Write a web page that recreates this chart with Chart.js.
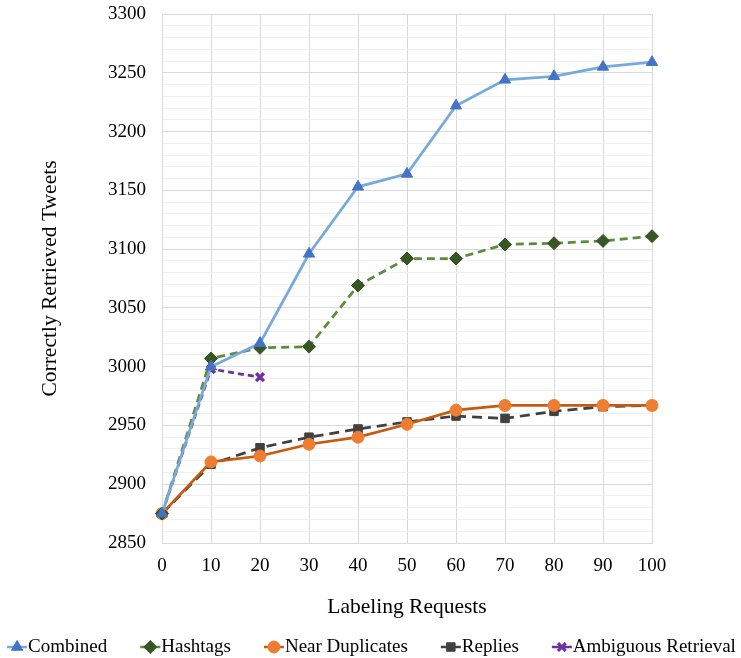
<!DOCTYPE html>
<html>
<head>
<meta charset="utf-8">
<script src="https://cdn.jsdelivr.net/npm/chart.js@4/dist/chart.umd.min.js"></script>
<style>
html,body{margin:0;padding:0;background:#fff;}
#wrap{width:741px;height:658px;}
</style>
</head>
<body>
<div id="wrap"><canvas id="c" width="741" height="658"></canvas></div>
<script>
const requests = [0, 10, 20, 30, 40, 50, 60, 70, 80, 90, 100];
const combined = [2875, 3000, 3020, 3096, 3153, 3164, 3222, 3244, 3247, 3255, 3259];
const hashtags = [2875, 3007, 3016, 3017, 3069, 3092, 3092, 3104, 3105, 3107, 3111];
const nearDuplicates = [2875, 2919, 2924, 2934, 2940, 2951, 2963, 2967, 2967, 2967, 2967];
const replies = [2875, 2917, 2931, 2940, 2947, 2953, 2958, 2956, 2962, 2966, 2967];
const ambiguous = [2875, 2998, 2991, null, null, null, null, null, null, null, null];
const seriesNames = ['Combined', 'Hashtags', 'Near Duplicates', 'Replies', 'Ambiguous Retrieval'];

const FONT = '"Liberation Serif", serif';

const styles = [
  {line:'#75aadb', point:'#4472c4', style:'triangle', r:6.5, dash:[]},
  {line:'#5b8c3a', point:'#375623', style:'rectRot', r:6.5, dash:[8,5]},
  {line:'#c55a11', point:'#ed7d31', style:'circle', r:6, dash:[]},
  {line:'#404040', point:'#404040', style:'rect', r:6, dash:[10,6]},
  {line:'#7030a0', point:'#7030a0', style:'crossRot', r:5.5, dash:[6,4]}
];
const values = [combined, hashtags, nearDuplicates, replies, ambiguous];

const datasets = values.map((v, i) => {
  const s = styles[i];
  const isCross = s.style === 'crossRot';
  return {
    label: seriesNames[i],
    data: v,
    borderColor: s.line,
    borderWidth: 2.75,
    borderDash: s.dash,
    pointStyle: s.style,
    pointRadius: s.r,
    pointBackgroundColor: s.point,
    pointBorderColor: s.point,
    pointBorderWidth: isCross ? 3.5 : 1,
    fill: false,
    tension: 0,
    spanGaps: false
  };
});

const customLegend = {
  id: 'customLegend',
  afterDraw(chart) {
    const ctx = chart.ctx;
    const fontSize = 19;
    const iconW = 20, textGap = 1, itemGap = 33;
    const y = chart.height - 11;
    ctx.save();
    ctx.font = fontSize + 'px ' + FONT;
    const widths = seriesNames.map(n => ctx.measureText(n).width);
    const total = widths.reduce((a, w) => a + iconW + textGap + w, 0) + itemGap * (seriesNames.length - 1);
    let x = (chart.width - total) / 2 + 1;
    seriesNames.forEach((name, i) => {
      const s = styles[i];
      ctx.setLineDash([]);
      ctx.strokeStyle = s.line; ctx.lineWidth = 2.5;
      ctx.beginPath(); ctx.moveTo(x, y); ctx.lineTo(x + iconW, y); ctx.stroke();
      ctx.fillStyle = s.point; ctx.strokeStyle = s.point;
      ctx.lineWidth = s.style === 'crossRot' ? 3 : 1;
      Chart.helpers.drawPoint(ctx, {pointStyle: s.style, radius: s.r, rotation: 0, borderWidth: ctx.lineWidth}, x + iconW / 2, y);
      ctx.fillStyle = '#000';
      ctx.textBaseline = 'middle';
      ctx.textAlign = 'left';
      ctx.fillText(name, x + iconW + textGap, y);
      x += iconW + textGap + widths[i] + itemGap;
    });
    ctx.restore();
  }
};

new Chart(document.getElementById('c'), {
  type: 'line',
  data: { labels: requests, datasets },
  plugins: [customLegend],
  options: {
    responsive: false,
    animation: false,
    devicePixelRatio: 1,
    layout: { padding: { left: 0, right: 89, top: 14, bottom: 30 } },
    plugins: {
      tooltip: { enabled: false },
      legend: { display: false }
    },
    scales: {
      x: {
        type: 'category',
        offset: false,
        grid: { color: '#d9d9d9', lineWidth: 1, drawTicks: false },
        border: { color: '#d9d9d9' },
        ticks: { color: '#000', font: { family: FONT, size: 19 }, padding: 12, maxRotation: 0 },
        title: { display: true, text: 'Labeling Requests', color: '#000', font: { family: FONT, size: 21.5 }, padding: { top: 8, bottom: 8 } },
        afterFit: (scale) => { scale.height = 85; scale.paddingLeft = 0; scale.paddingRight = 0; }
      },
      y: {
        min: 2850, max: 3300,
        grid: {
          color: (ctx) => (ctx.tick && ctx.tick.value % 50 === 0) ? '#d9d9d9' : '#f0f0f0',
          lineWidth: 1,
          drawTicks: false
        },
        border: { color: '#d9d9d9' },
        ticks: {
          stepSize: 10,
          autoSkip: false,
          color: '#000',
          font: { family: FONT, size: 19 },
          padding: 16,
          callback: (v) => (v % 50 === 0 ? String(v) : '')
        },
        title: { display: true, text: 'Correctly Retrieved Tweets', color: '#000', font: { family: FONT, size: 21.5 }, padding: { top: 37, bottom: 37 } },
        afterFit: (scale) => { scale.width = 162; scale.paddingTop = 0; scale.paddingBottom = 0; }
      }
    }
  }
});
</script>
</body>
</html>
